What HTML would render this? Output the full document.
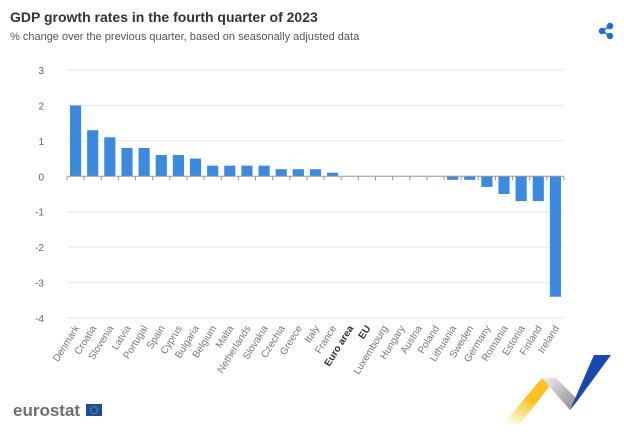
<!DOCTYPE html>
<html><head><meta charset="utf-8"><style>
body{margin:0;width:624px;height:444px;background:#fff;font-family:"Liberation Sans",sans-serif;overflow:hidden;position:relative}
.t{position:absolute;left:10px;top:9px;font-size:14px;font-weight:bold;color:#333}
.s{position:absolute;left:10px;top:31px;font-size:11px;color:#555}
</style></head><body>
<div class="t">GDP growth rates in the fourth quarter of 2023</div>
<div class="s">% change over the previous quarter, based on seasonally adjusted data</div>
<svg width="624" height="444" style="position:absolute;left:0;top:0" id="svg">
<g fill="#1a6fd6" stroke="#1a6fd6" stroke-width="1.5">
<circle cx="610" cy="26" r="2.5"/><circle cx="602" cy="31" r="2.5"/><circle cx="610" cy="36" r="2.5"/>
<line x1="610" y1="26" x2="602" y2="31"/><line x1="602" y1="31" x2="610" y2="36"/></g>
<g id="plot"></g>
<g>
<text x="13" y="416" font-size="17" font-weight="bold" fill="#6d6e71" font-family="Liberation Sans,sans-serif">eurostat</text>
<rect x="86" y="404" width="16" height="12" fill="#1a4fa0"/><circle cx="94" cy="410" r="3.5" fill="none" stroke="#f5c400" stroke-width="0.8" stroke-dasharray="1 1"/></g>
<defs><linearGradient id="yg" x1="0" y1="1" x2="0.6" y2="0"><stop offset="0" stop-color="#ffd23f" stop-opacity="0"/><stop offset="0.6" stop-color="#fcc31f"/></linearGradient>
<linearGradient id="gg" x1="0" y1="0" x2="1" y2="1"><stop offset="0" stop-color="#eee"/><stop offset="1" stop-color="#888"/></linearGradient></defs>
<g>
<polygon points="503,424 542,378 556,378 520,424" fill="url(#yg)"/>
<polygon points="542,378 556,378 578,400 570,410" fill="url(#gg)"/>
<polygon points="570,410 594,355 611,355 578,400" fill="#1747b5"/></g>
</svg>
<script>
const categories=["Denmark","Croatia","Slovenia","Latvia","Portugal","Spain","Cyprus","Bulgaria","Belgium","Malta","Netherlands","Slovakia","Czechia","Greece","Italy","France","Euro area","EU","Luxembourg","Hungary","Austria","Poland","Lithuania","Sweden","Germany","Romania","Estonia","Finland","Ireland"];
const values=[2,1.3,1.1,0.8,0.8,0.6,0.6,0.5,0.3,0.3,0.3,0.3,0.2,0.2,0.2,0.1,0,0,0,0,0,0,-0.1,-0.1,-0.3,-0.5,-0.7,-0.7,-3.4];
const yTicks=[3,2,1,0,-1,-2,-3,-4];
const NS="http://www.w3.org/2000/svg";
const g=document.getElementById("plot");
const x0=67,x1=564,yTop=70,yBot=318,vMax=3,vMin=-4;
const y=v=>yTop+(vMax-v)/(vMax-vMin)*(yBot-yTop);
const bw=(x1-x0)/categories.length;
const x=i=>x0+i*bw;
function mk(t,a){const e=document.createElementNS(NS,t);for(const k in a)e.setAttribute(k,a[k]);g.appendChild(e);return e;}
yTicks.forEach(v=>{
 if(v!==0){const l=mk("line",{x1:x0,x2:x1,y1:y(v),y2:y(v),stroke:"#e6e6ee","stroke-width":1});
 
 }
 const t=mk("text",{x:44,y:y(v)+4,"font-size":10,fill:"#666","text-anchor":"end"});t.textContent=v;
 
 
});
values.forEach((v,i)=>{
 const r=mk("rect",{x:x(i)+3,width:bw-6,y:Math.min(y(v),y(0)),height:Math.max(Math.abs(y(v)-y(0)),0),fill:"#3a8ae0"});
 
 
});
const ax=mk("line",{x1:x0,x2:x1,y1:y(0),y2:y(0),stroke:"#999","stroke-width":1});


for(let i=0;i<=categories.length;i++){const tk=mk("line",{x1:x(i),x2:x(i),y1:y(0),y2:y(0)+4,stroke:"#999"});
 
 }
categories.forEach((c,i)=>{
 const cx=x(i)+bw/2+4,cy=328;
 const t=mk("text",{x:cx,y:cy,"font-size":10,fill:c==="EU"||c==="Euro area"?"#333":"#777","font-weight":c==="EU"||c==="Euro area"?"bold":"normal","text-anchor":"end",transform:`rotate(-58 ${cx} ${cy})`});
 t.textContent=c;
 
 
});
</script>
</body></html>
